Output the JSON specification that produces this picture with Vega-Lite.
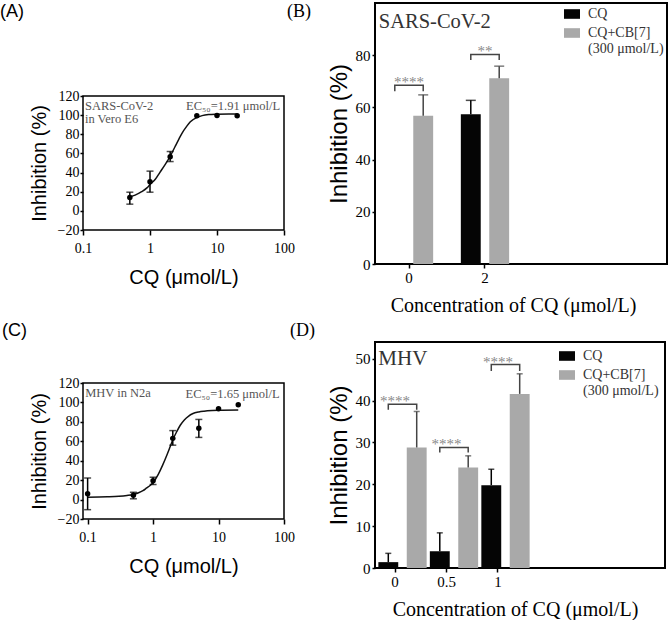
{
  "$schema": "https://vega.github.io/schema/vega-lite/v6.json",
  "padding": {"top": 2, "left": 0, "right": 0, "bottom": 0},
  "background": "white",
  "spacing": -10,
  "bounds": "full",
  "resolve": {"scale": {"color": "independent"}, "legend": {"color": "independent"}},
  "config": {
    "axis": {"domain": false, "grid": false, "tickColor": "#000", "labelColor": "#000", "titleColor": "#000", "labelFont": "Liberation Serif", "labelFontSize": 14, "titleFontWeight": "normal", "tickSize": 4, "tickWidth": 1.5, "labelFlush": false},
    "title": {"fontWeight": "normal", "color": "#000", "anchor": "start", "frame": "group"}
  },
  "datasets": {
    "pointsA": [
      {"x": 0.5, "y": 14, "lo": 7, "hi": 19.5},
      {"x": 1, "y": 30.5, "lo": 19.5, "hi": 41.5},
      {"x": 2, "y": 56.6, "lo": 51.5, "hi": 62},
      {"x": 5, "y": 99.4},
      {"x": 10, "y": 99.6},
      {"x": 20, "y": 99.4}
    ],
    "curveA": [
      {"x": 0.5, "y": 14.5}, {"x": 0.6, "y": 16.5}, {"x": 0.75, "y": 20}, {"x": 0.9, "y": 24}, {"x": 1, "y": 27.5},
      {"x": 1.2, "y": 33}, {"x": 1.4, "y": 40}, {"x": 1.67, "y": 48}, {"x": 2, "y": 57}, {"x": 2.36, "y": 67},
      {"x": 2.7, "y": 75}, {"x": 3, "y": 81}, {"x": 3.5, "y": 88}, {"x": 4, "y": 93}, {"x": 5, "y": 97.5},
      {"x": 6, "y": 99.5}, {"x": 7.5, "y": 100.6}, {"x": 10, "y": 101}, {"x": 15, "y": 101.2}, {"x": 20, "y": 101.2}
    ],
    "textA": [
      {"x": 0.107, "y": 105.4, "t": "SARS-CoV-2"},
      {"x": 0.107, "y": 91.5, "t": "in Vero E6"},
      {"x": 3.45, "y": 105.4, "t": "EC₅₀=1.91 μmol/L"}
    ],
    "pointsC": [
      {"x": 0.1, "y": 6, "lo": -10.4, "hi": 22.2},
      {"x": 0.5, "y": 4.5, "lo": 0.8, "hi": 7.5},
      {"x": 1, "y": 19.5, "lo": 15.5, "hi": 23},
      {"x": 2, "y": 63, "lo": 56, "hi": 71},
      {"x": 5, "y": 73.5, "lo": 64, "hi": 82.5},
      {"x": 10, "y": 93.5},
      {"x": 20, "y": 97.7}
    ],
    "curveC": [
      {"x": 0.1, "y": 2.5}, {"x": 0.2, "y": 2.8}, {"x": 0.3, "y": 3.3}, {"x": 0.4, "y": 4.2}, {"x": 0.5, "y": 5.3},
      {"x": 0.6, "y": 7}, {"x": 0.7, "y": 9.2}, {"x": 0.8, "y": 12}, {"x": 0.9, "y": 14.5}, {"x": 1, "y": 17.5},
      {"x": 1.2, "y": 26}, {"x": 1.4, "y": 35.5}, {"x": 1.65, "y": 47}, {"x": 1.8, "y": 53.5}, {"x": 2, "y": 61.5},
      {"x": 2.3, "y": 70}, {"x": 2.6, "y": 76.5}, {"x": 3, "y": 82}, {"x": 3.5, "y": 86}, {"x": 4, "y": 88.3},
      {"x": 5, "y": 90.2}, {"x": 6, "y": 91}, {"x": 8, "y": 91.7}, {"x": 10, "y": 92}, {"x": 20, "y": 92.2}
    ],
    "textC": [
      {"x": 0.0916, "y": 105.6, "t": "MHV in N2a"},
      {"x": 3.13, "y": 104.9, "t": "EC₅₀=1.65 μmol/L"}
    ],
    "refs": [{"y": 50}, {"y": 0}],
    "barsB": [
      {"conc": "0", "group": "CQ", "v": 0},
      {"conc": "0", "group": "CQ+CB[7]", "v": 56.8, "hi": 64.8},
      {"conc": "2", "group": "CQ", "v": 57.4, "hi": 62.7},
      {"conc": "2", "group": "CQ+CB[7]", "v": 71.2, "hi": 75.8}
    ],
    "bracketsB": [
      {"conc": "0", "group": "CQ", "v": 66.2, "o": 1},
      {"conc": "0", "group": "CQ", "v": 68.5, "o": 2},
      {"conc": "0", "group": "CQ+CB[7]", "v": 68.5, "o": 3},
      {"conc": "0", "group": "CQ+CB[7]", "v": 66.2, "o": 4},
      {"conc": "2", "group": "CQ", "v": 78.2, "o": 1},
      {"conc": "2", "group": "CQ", "v": 80.3, "o": 2},
      {"conc": "2", "group": "CQ+CB[7]", "v": 80.3, "o": 3},
      {"conc": "2", "group": "CQ+CB[7]", "v": 78.2, "o": 4}
    ],
    "starsB": [
      {"conc": "0", "v": 68.5, "t": "****"},
      {"conc": "2", "v": 80.3, "t": "**"}
    ],
    "labelB": [{"conc": "0", "group": "CQ", "v": 90.3, "t": "SARS-CoV-2"}],
    "barsD": [
      {"conc": "0", "group": "CQ", "v": 1.4, "hi": 3.5},
      {"conc": "0", "group": "CQ+CB[7]", "v": 28.8, "hi": 37.4},
      {"conc": "0.5", "group": "CQ", "v": 4.0, "hi": 8.4},
      {"conc": "0.5", "group": "CQ+CB[7]", "v": 24.0, "hi": 26.8},
      {"conc": "1", "group": "CQ", "v": 19.8, "hi": 23.6},
      {"conc": "1", "group": "CQ+CB[7]", "v": 41.6, "hi": 46.4}
    ],
    "bracketsD": [
      {"conc": "0", "group": "CQ", "v": 37.8, "o": 1},
      {"conc": "0", "group": "CQ", "v": 39.1, "o": 2},
      {"conc": "0", "group": "CQ+CB[7]", "v": 39.1, "o": 3},
      {"conc": "0", "group": "CQ+CB[7]", "v": 37.8, "o": 4},
      {"conc": "0.5", "group": "CQ", "v": 27.6, "o": 1},
      {"conc": "0.5", "group": "CQ", "v": 28.8, "o": 2},
      {"conc": "0.5", "group": "CQ+CB[7]", "v": 28.8, "o": 3},
      {"conc": "0.5", "group": "CQ+CB[7]", "v": 27.6, "o": 4},
      {"conc": "1", "group": "CQ", "v": 47.1, "o": 1},
      {"conc": "1", "group": "CQ", "v": 48.6, "o": 2},
      {"conc": "1", "group": "CQ+CB[7]", "v": 48.6, "o": 3},
      {"conc": "1", "group": "CQ+CB[7]", "v": 47.1, "o": 4}
    ],
    "starsD": [
      {"conc": "0", "v": 39.1, "t": "****"},
      {"conc": "0.5", "v": 28.8, "t": "****"},
      {"conc": "1", "v": 48.6, "t": "****"}
    ],
    "labelD": [{"conc": "0", "group": "CQ", "v": 48.6, "t": "MHV"}],
    "none": []
  },
  "hconcat": [
    {
      "spacing": 33,
      "vconcat": [
        {
          "width": 10, "height": 52,
          "data": {"name": "none"},
          "mark": {"type": "point", "opacity": 0},
          "view": {"stroke": null},
          "title": {"text": "(A)", "dx": -83, "offset": -18, "font": "Liberation Sans", "fontSize": 18}
        },
        {
          "width": 201, "height": 134,
          "view": {"stroke": "#000", "strokeWidth": 1.5},
          "encoding": {
            "x": {"field": "x", "type": "quantitative", "scale": {"type": "log", "domain": [0.1, 100], "nice": false, "padding": 0},
                  "axis": {"values": [0.1, 1, 10, 100], "format": "~g", "title": "CQ (μmol/L)", "titleFont": "Liberation Sans", "titleFontSize": 20, "tickSize": 5, "labelPadding": 6, "titlePadding": 12}},
            "y": {"field": "y", "type": "quantitative", "scale": {"domain": [-20, 120], "nice": false, "zero": false, "padding": 0},
                  "axis": {"values": [-20, 0, 20, 40, 60, 80, 100, 120], "title": "Inhibition (%)", "titleFont": "Liberation Sans", "titleFontSize": 20, "labelPadding": 1, "tickSize": 3, "titlePadding": 8}}
          },
          "layer": [
            {"data": {"name": "refs"}, "mark": {"type": "rule", "color": "#888", "strokeDash": [2, 3], "strokeWidth": 1},
             "encoding": {"x": {"datum": 0.1}, "x2": {"datum": 100}}},
            {"data": {"name": "curveA"}, "mark": {"type": "line", "color": "#111", "strokeWidth": 1.5, "interpolate": "monotone"}},
            {"data": {"name": "pointsA"}, "transform": [{"filter": "datum.lo != null"}], "mark": {"type": "rule", "color": "#000", "strokeWidth": 1.5},
             "encoding": {"y": {"field": "lo", "type": "quantitative"}, "y2": {"field": "hi"}}},
            {"data": {"name": "pointsA"}, "transform": [{"filter": "datum.lo != null"}], "mark": {"type": "tick", "orient": "horizontal", "color": "#000", "size": 7, "thickness": 1.5},
             "encoding": {"y": {"field": "lo", "type": "quantitative"}}},
            {"data": {"name": "pointsA"}, "transform": [{"filter": "datum.hi != null"}], "mark": {"type": "tick", "orient": "horizontal", "color": "#000", "size": 7, "thickness": 1.5},
             "encoding": {"y": {"field": "hi", "type": "quantitative"}}},
            {"data": {"name": "pointsA"}, "mark": {"type": "point", "filled": true, "color": "#000", "size": 30, "opacity": 1}},
            {"data": {"name": "textA"}, "mark": {"type": "text", "align": "left", "baseline": "alphabetic", "font": "Liberation Serif", "fontSize": 12.5, "color": "#555"},
             "encoding": {"text": {"field": "t"}}}
          ]
        },
        {
          "width": 201, "height": 136,
          "title": {"text": "(C)", "dx": -81, "offset": 36, "font": "Liberation Sans", "fontSize": 18},
          "view": {"stroke": "#000", "strokeWidth": 1.5},
          "encoding": {
            "x": {"field": "x", "type": "quantitative", "scale": {"type": "log", "domain": [0.085, 100], "nice": false, "padding": 0},
                  "axis": {"values": [0.1, 1, 10, 100], "format": "~g", "title": "CQ (μmol/L)", "titleFont": "Liberation Sans", "titleFontSize": 20, "tickSize": 5, "labelPadding": 6, "titlePadding": 12}},
            "y": {"field": "y", "type": "quantitative", "scale": {"domain": [-20, 120], "nice": false, "zero": false, "padding": 0},
                  "axis": {"values": [-20, 0, 20, 40, 60, 80, 100, 120], "title": "Inhibition (%)", "titleFont": "Liberation Sans", "titleFontSize": 20, "labelPadding": 1, "tickSize": 3, "titlePadding": 8}}
          },
          "layer": [
            {"data": {"name": "refs"}, "mark": {"type": "rule", "color": "#888", "strokeDash": [2, 3], "strokeWidth": 1},
             "encoding": {"x": {"datum": 0.085}, "x2": {"datum": 100}}},
            {"data": {"name": "curveC"}, "mark": {"type": "line", "color": "#111", "strokeWidth": 1.5, "interpolate": "monotone"}},
            {"data": {"name": "pointsC"}, "transform": [{"filter": "datum.lo != null"}], "mark": {"type": "rule", "color": "#000", "strokeWidth": 1.5},
             "encoding": {"y": {"field": "lo", "type": "quantitative"}, "y2": {"field": "hi"}}},
            {"data": {"name": "pointsC"}, "transform": [{"filter": "datum.lo != null"}], "mark": {"type": "tick", "orient": "horizontal", "color": "#000", "size": 7, "thickness": 1.5},
             "encoding": {"y": {"field": "lo", "type": "quantitative"}}},
            {"data": {"name": "pointsC"}, "transform": [{"filter": "datum.hi != null"}], "mark": {"type": "tick", "orient": "horizontal", "color": "#000", "size": 7, "thickness": 1.5},
             "encoding": {"y": {"field": "hi", "type": "quantitative"}}},
            {"data": {"name": "pointsC"}, "mark": {"type": "point", "filled": true, "color": "#000", "size": 30, "opacity": 1}},
            {"data": {"name": "textC"}, "mark": {"type": "text", "align": "left", "baseline": "alphabetic", "font": "Liberation Serif", "fontSize": 12.5, "color": "#555"},
             "encoding": {"text": {"field": "t"}}}
          ]
        }
      ]
    },
    {
      "spacing": 5,
      "resolve": {"scale": {"color": "independent"}, "legend": {"color": "independent"}},
      "vconcat": [
        {
          "width": 292, "height": 261,
          "title": {"text": "(B)", "dx": -88, "offset": -18, "font": "Liberation Serif", "fontSize": 18},
          "view": {"stroke": "#000", "strokeWidth": 2},
          "encoding": {
            "x": {"field": "conc", "type": "nominal", "sort": ["0", "2"],
                  "scale": {"range": [9, 135], "paddingInner": 0.342, "paddingOuter": 0},
                  "axis": {"labelAngle": 0, "title": "Concentration of CQ (μmol/L)", "titleFont": "Liberation Serif", "titleFontSize": 20, "titleX": 138, "titleAlign": "center", "labelFontSize": 15, "tickSize": 4, "labelPadding": 2, "titlePadding": 10}},
            "y": {"field": "v", "type": "quantitative", "scale": {"domain": [0, 100], "nice": false, "padding": 0},
                  "axis": {"values": [0, 20, 40, 60, 80], "title": "Inhibition (%)", "titleFont": "Liberation Sans", "titleFontSize": 24, "labelFontSize": 15, "tickSize": 3, "labelPadding": 2, "titlePadding": 4}}
          },
          "layer": [
            {"data": {"name": "barsB"}, "mark": {"type": "bar"},
             "encoding": {
               "xOffset": {"field": "group", "type": "nominal", "sort": ["CQ", "CQ+CB[7]"], "scale": {"paddingInner": 0.3, "paddingOuter": 0.03}},
               "color": {"field": "group", "type": "nominal", "scale": {"domain": ["CQ", "CQ+CB[7]"], "range": ["#050505", "#a9a9a9"]},
                         "legend": {"title": null, "orient": "top-right", "offset": 3, "symbolType": "M-1,-0.6H1V0.6H-1Z", "symbolSize": 256, "symbolStrokeWidth": 0, "symbolOpacity": 1,
                                    "labelFont": "Liberation Serif", "labelFontSize": 14, "labelColor": "#333", "labelLimit": 200, "labelOffset": 8, "rowPadding": 4,
                                    "labelExpr": "datum.label == 'CQ' ? 'CQ' : ['CQ+CB[7]', ' (300 μmol/L)']"}}
             }},
            {"data": {"name": "barsB"}, "transform": [{"filter": "datum.hi != null"}], "mark": {"type": "rule", "strokeWidth": 1.5},
             "encoding": {
               "xOffset": {"field": "group", "type": "nominal", "sort": ["CQ", "CQ+CB[7]"]},
               "y2": {"field": "hi"},
               "color": {"condition": {"test": "datum.group == 'CQ'", "value": "#000"}, "value": "#444"}
             }},
            {"data": {"name": "barsB"}, "transform": [{"filter": "datum.hi != null"}], "mark": {"type": "tick", "orient": "horizontal", "size": 10, "thickness": 1.5},
             "encoding": {
               "xOffset": {"field": "group", "type": "nominal", "sort": ["CQ", "CQ+CB[7]"]},
               "y": {"field": "hi", "type": "quantitative"},
               "color": {"condition": {"test": "datum.group == 'CQ'", "value": "#000"}, "value": "#444"}
             }},
            {"data": {"name": "bracketsB"}, "mark": {"type": "line", "color": "#444", "strokeWidth": 1.5},
             "encoding": {
               "xOffset": {"field": "group", "type": "nominal", "sort": ["CQ", "CQ+CB[7]"]},
               "order": {"field": "o"},
               "detail": {"field": "conc"}
             }},
            {"data": {"name": "starsB"}, "mark": {"type": "text", "baseline": "alphabetic", "dy": 2, "font": "Liberation Serif", "fontSize": 15, "color": "#888"},
             "encoding": {"text": {"field": "t"}}},
            {"data": {"name": "labelB"}, "mark": {"type": "text", "align": "left", "baseline": "alphabetic", "dx": -16, "font": "Liberation Serif", "fontSize": 20.5, "color": "#333"},
             "encoding": {
               "xOffset": {"field": "group", "type": "nominal", "sort": ["CQ", "CQ+CB[7]"]},
               "text": {"field": "t"}
             }}
          ]
        },
        {
          "width": 290, "height": 226,
          "title": {"text": "(D)", "dx": -85, "offset": 2, "font": "Liberation Serif", "fontSize": 18},
          "view": {"stroke": "#000", "strokeWidth": 2},
          "encoding": {
            "x": {"field": "conc", "type": "nominal", "sort": ["0", "0.5", "1"],
                  "scale": {"range": [2.5, 140.5], "paddingInner": 0.32, "paddingOuter": 0},
                  "axis": {"labelAngle": 0, "title": "Concentration of CQ (μmol/L)", "titleFont": "Liberation Serif", "titleFontSize": 20, "titleX": 140, "titleAlign": "center", "labelFontSize": 15, "tickSize": 4, "labelPadding": 2, "titlePadding": 10}},
            "y": {"field": "v", "type": "quantitative", "scale": {"domain": [0, 54], "nice": false, "padding": 0},
                  "axis": {"values": [0, 10, 20, 30, 40, 50], "title": "Inhibition (%)", "titleFont": "Liberation Sans", "titleFontSize": 24, "labelFontSize": 15, "tickSize": 3, "labelPadding": 2, "titlePadding": 4}}
          },
          "layer": [
            {"data": {"name": "barsD"}, "mark": {"type": "bar"},
             "encoding": {
               "xOffset": {"field": "group", "type": "nominal", "sort": ["CQ", "CQ+CB[7]"], "scale": {"paddingInner": 0.26, "paddingOuter": 0.03}},
               "color": {"field": "group", "type": "nominal", "scale": {"domain": ["CQ", "CQ+CB[7]"], "range": ["#050505", "#a9a9a9"]},
                         "legend": {"title": null, "orient": "top-right", "offset": 6, "symbolType": "M-1,-0.6H1V0.6H-1Z", "symbolSize": 256, "symbolStrokeWidth": 0, "symbolOpacity": 1,
                                    "labelFont": "Liberation Serif", "labelFontSize": 14, "labelColor": "#333", "labelLimit": 200, "labelOffset": 8, "rowPadding": 4,
                                    "labelExpr": "datum.label == 'CQ' ? 'CQ' : ['CQ+CB[7]', '(300 μmol/L)']"}}
             }},
            {"data": {"name": "barsD"}, "transform": [{"filter": "datum.hi != null"}], "mark": {"type": "rule", "strokeWidth": 1.5},
             "encoding": {
               "xOffset": {"field": "group", "type": "nominal", "sort": ["CQ", "CQ+CB[7]"]},
               "y2": {"field": "hi"},
               "color": {"condition": {"test": "datum.group == 'CQ'", "value": "#000"}, "value": "#444"}
             }},
            {"data": {"name": "barsD"}, "transform": [{"filter": "datum.hi != null"}], "mark": {"type": "tick", "orient": "horizontal", "size": 6, "thickness": 1.5},
             "encoding": {
               "xOffset": {"field": "group", "type": "nominal", "sort": ["CQ", "CQ+CB[7]"]},
               "y": {"field": "hi", "type": "quantitative"},
               "color": {"condition": {"test": "datum.group == 'CQ'", "value": "#000"}, "value": "#444"}
             }},
            {"data": {"name": "bracketsD"}, "mark": {"type": "line", "color": "#444", "strokeWidth": 1.5},
             "encoding": {
               "xOffset": {"field": "group", "type": "nominal", "sort": ["CQ", "CQ+CB[7]"]},
               "order": {"field": "o"},
               "detail": {"field": "conc"}
             }},
            {"data": {"name": "starsD"}, "mark": {"type": "text", "baseline": "alphabetic", "dy": 2, "font": "Liberation Serif", "fontSize": 15, "color": "#888"},
             "encoding": {"text": {"field": "t"}}},
            {"data": {"name": "labelD"}, "mark": {"type": "text", "align": "left", "baseline": "alphabetic", "dx": -10, "font": "Liberation Serif", "fontSize": 21, "color": "#333"},
             "encoding": {
               "xOffset": {"field": "group", "type": "nominal", "sort": ["CQ", "CQ+CB[7]"]},
               "text": {"field": "t"}
             }}
          ]
        }
      ]
    }
  ]
}
